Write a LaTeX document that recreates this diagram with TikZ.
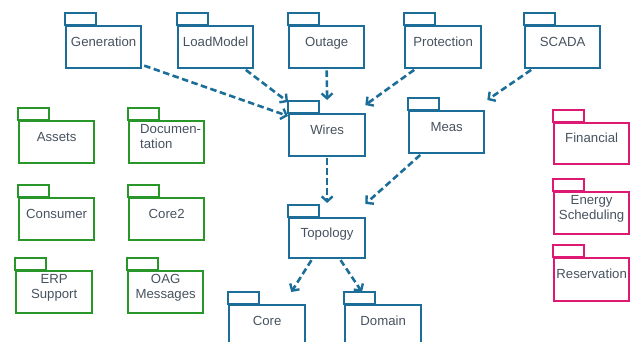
\documentclass[tikz,border=0pt]{standalone}
\usepackage{fontspec}
\setmainfont{Liberation Sans}
\usetikzlibrary{arrows.meta,calc}
\definecolor{pblue}{RGB}{28,110,153}
\definecolor{pgreen}{RGB}{40,150,40}
\definecolor{ppink}{RGB}{222,25,115}
\definecolor{ptext}{RGB}{70,82,95}
\tikzset{
  pkgbase/.style={draw, line width=2.3pt, inner sep=0pt,
    font=\fontsize{13.2pt}{14.5pt}\selectfont},
  bluepkg/.style={pkgbase, draw=pblue, text=ptext},
  greenpkg/.style={pkgbase, draw=pgreen, text=ptext},
  pinkpkg/.style={pkgbase, draw=ppink, text=ptext},
  dep/.style={pblue, line width=2.6pt, dash pattern=on 6.5pt off 3.5pt,
    -{Straight Barb[length=5pt,width=11pt,line width=2.4pt]}, shorten <=1pt}
}
\newcommand{\pk}[7]{%
  \node[#1, anchor=north west, minimum width={(#5-#3)*1pt}, minimum height={(#6-#4)*1pt}]
    (#2) at (#3,#4) {\raisebox{4pt}[\height][\depth]{\begin{tabular}{@{}c@{}}#7\end{tabular}}};
  \draw[#1] (#2.north west) rectangle ++(31,-12);
}
\begin{document}
\begin{tikzpicture}[x=1pt,y=-1pt]
\useasboundingbox (0,0) rectangle (635,342);
\clip (0,0) rectangle (635,342);
% top row
\pk{bluepkg}{gen}{65}{25}{140}{67}{Generation}
\pk{bluepkg}{load}{177}{25}{252}{67}{LoadModel}
\pk{bluepkg}{outage}{288}{25}{363}{67}{Outage}
\pk{bluepkg}{prot}{404}{25}{480}{67}{Protection}
\pk{bluepkg}{scada}{524}{25}{599}{67}{SCADA}
% middle
\pk{bluepkg}{wires}{288}{113}{364}{155}{Wires}
\pk{bluepkg}{meas}{408}{110}{483}{152}{Meas}
\pk{bluepkg}{topo}{288}{217}{364}{257}{Topology}
\pk{bluepkg}{core}{228}{304}{304}{346}{Core}
\pk{bluepkg}{domain}{344}{304}{420}{346}{Domain}
% green
\pk{greenpkg}{assets}{18}{120}{93}{162}{Assets}
\pk{greenpkg}{doc}{128}{120}{203}{162}{\hspace*{8pt}\begin{tabular}{@{}l@{}}Documen-\\tation\end{tabular}}
\pk{greenpkg}{consumer}{18}{197}{93}{239}{Consumer}
\pk{greenpkg}{core2}{128}{197}{203}{239}{Core2}
\pk{greenpkg}{erp}{15}{270}{91}{312}{ERP\\Support}
\pk{greenpkg}{oag}{127}{270}{202}{312}{OAG\\Messages}
% pink
\pk{pinkpkg}{fin}{553}{122}{628}{163}{Financial}
\pk{pinkpkg}{energy}{553}{191}{628}{233}{Energy\\Scheduling}
\pk{pinkpkg}{res}{553}{257}{628}{300}{Reservation}
% dependencies
\draw[dep] ($(gen.south east)+(1,-4)$) -- ($(wires.north west)+(0,3)$);
\draw[dep] ($(load.south west)!0.88!(load.south east)$) -- ($(wires.north west)+(0,-11)$);
\draw[dep] (outage.south) -- ($(wires.north)+(0,-13)$);
\draw[dep] ($(prot.south west)+(11,0)$) -- ($(wires.north east)+(-1,-8)$);
\draw[dep] ($(scada.south west)+(8,0)$) -- ($(meas.north east)+(2,-10)$);
\draw[dep] (wires.south) -- ($(topo.north)+(0,-14)$);
\draw[dep] ($(meas.south west)+(13,0)$) -- ($(topo.north east)+(-1,-13)$);
\draw[dep] ($(topo.south west)+(24,0)$) -- ($(core.north east)+(-15,-12)$);
\draw[dep] ($(topo.south west)+(52,0)$) -- ($(domain.north west)+(18,-12)$);
\end{tikzpicture}
\end{document}
